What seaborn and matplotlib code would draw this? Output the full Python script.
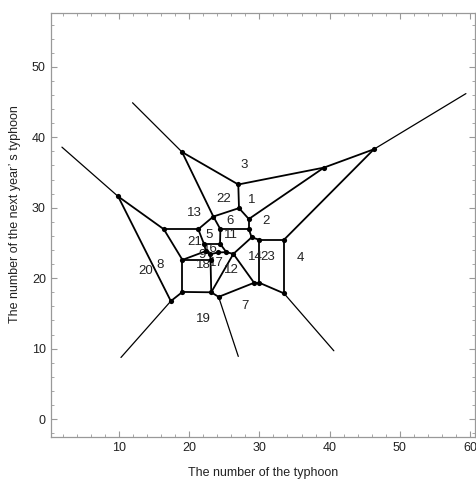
import matplotlib
matplotlib.use("Agg")
import matplotlib.pyplot as plt
import seaborn as sns
import pandas as pd
import numpy as np
from matplotlib.ticker import MultipleLocator

# Voronoi vertices (finite, drawn with dots)
vertex_names = ["TL", "A", "B", "TR", "C", "D", "E", "F", "G", "H", "I", "J",
                "Q", "R", "S", "T", "V", "W", "c1", "c3", "c2", "X", "K",
                "AA", "Y", "O", "P", "L", "M", "N", "Z"]
vertex_x = [19.0, 27.0, 39.2, 46.3, 27.1, 28.5, 23.45, 28.5, 24.45, 28.9, 30.0, 33.5,
            9.9, 16.4, 21.3, 19.05, 22.1, 24.4, 22.4, 23.0, 24.1, 25.3, 26.3,
            23.05, 19.05, 23.15, 24.2, 29.25, 30.0, 33.5, 17.4]
vertex_y = [37.9, 33.3, 35.7, 38.3, 29.95, 28.4, 28.75, 26.95, 26.95, 25.8, 25.45, 25.45,
            31.6, 26.95, 26.95, 22.6, 24.9, 24.9, 23.85, 23.4, 23.65, 23.7, 23.45,
            22.6, 18.05, 18.0, 17.35, 19.35, 19.35, 17.85, 16.75]

# Far ends of the unbounded cell edges (rays)
ray_from = ["TL", "TR", "Q", "Z", "P", "N"]
ray_end_x = [11.95, 59.4, 1.9, 10.3, 27.0, 40.6]
ray_end_y = [44.9, 46.2, 38.6, 8.75, 8.9, 9.7]

# Finite edges between vertices
edges = [("TL", "A"), ("TL", "E"), ("A", "B"), ("A", "C"), ("B", "TR"), ("B", "D"),
         ("TR", "J"), ("C", "D"), ("C", "E"), ("D", "F"), ("E", "S"), ("E", "G"),
         ("F", "G"), ("F", "H"), ("G", "W"), ("H", "I"), ("H", "K"), ("I", "J"),
         ("I", "M"), ("J", "N"), ("N", "M"), ("M", "L"), ("L", "K"), ("L", "P"),
         ("P", "O"), ("O", "Y"), ("O", "AA"), ("O", "K"), ("Y", "T"), ("Y", "Z"),
         ("Z", "Q"), ("Q", "R"), ("R", "S"), ("R", "T"), ("S", "V"), ("V", "W"),
         ("V", "c1"), ("W", "X"), ("X", "K"), ("X", "c2"), ("c2", "c3"),
         ("c3", "c1"), ("c3", "AA"), ("T", "c1"), ("T", "AA")]

# Point labels
label_text = ["1", "2", "3", "4", "5", "6", "7", "8", "9", "11", "12", "13",
              "14", "16", "17", "18", "19", "20", "21", "22", "23"]
label_x = [28.96, 30.9, 27.9, 35.85, 22.9, 25.9, 27.9, 15.9, 21.8, 26.0, 26.0, 20.8,
           29.45, 23.0, 23.9, 22.1, 22.0, 13.8, 20.8, 24.9, 31.15]
label_y = [31.06, 28.1, 36.0, 22.9, 26.2, 28.1, 16.0, 21.9, 23.3, 26.2, 21.1, 29.2,
           23.0, 24.1, 22.1, 21.9, 14.2, 21.0, 25.15, 31.2, 23.0]

pos = {n: (x, y) for n, x, y in zip(vertex_names, vertex_x, vertex_y)}

rows = []
for i, (a, b) in enumerate(edges):
    rows.append({"edge": i, "x": pos[a][0], "y": pos[a][1]})
    rows.append({"edge": i, "x": pos[b][0], "y": pos[b][1]})
edge_df = pd.DataFrame(rows)

ray_rows = []
for i, (a, ex, ey) in enumerate(zip(ray_from, ray_end_x, ray_end_y)):
    ray_rows.append({"edge": i, "x": pos[a][0], "y": pos[a][1]})
    ray_rows.append({"edge": i, "x": ex, "y": ey})
ray_df = pd.DataFrame(ray_rows)

vert_df = pd.DataFrame({"x": vertex_x, "y": vertex_y})

sns.set_theme(style="ticks")
plt.rcParams["font.family"] = ["Liberation Sans", "DejaVu Sans"]

fig = plt.figure(figsize=(4.76, 4.83), dpi=100)
ax = fig.add_axes([0.108, 0.0958, 0.890, 0.8767])

sns.lineplot(data=ray_df, x="x", y="y", units="edge", estimator=None, sort=False,
             color="black", linewidth=0.9, ax=ax)
sns.lineplot(data=edge_df, x="x", y="y", units="edge", estimator=None, sort=False,
             color="black", linewidth=1.3, ax=ax)
sns.scatterplot(data=vert_df, x="x", y="y", color="black", s=14, linewidth=0,
                ax=ax, zorder=5)

for t, x, y in zip(label_text, label_x, label_y):
    ax.text(x, y, t, fontsize=9.5, ha="center", va="center", color="#222222")

ax.set_xlim(0.4, 60.7)
ax.set_ylim(-2.5, 57.6)
ax.xaxis.set_major_locator(MultipleLocator(10))
ax.xaxis.set_minor_locator(MultipleLocator(2))
ax.yaxis.set_major_locator(MultipleLocator(10))
ax.yaxis.set_minor_locator(MultipleLocator(2))
ax.tick_params(which="both", direction="in", top=True, right=True,
               labeltop=False, labelright=False, color="#999999",
               labelsize=9, labelcolor="#222222", pad=4)
ax.tick_params(which="major", length=4.5, width=0.8)
ax.tick_params(which="minor", length=2.5, width=0.6)
for sp in ax.spines.values():
    sp.set_color("#999999")
    sp.set_linewidth(0.9)

ax.set_xlabel("The number of the typhoon", fontsize=9, color="#222222")
ax.set_ylabel("The number of the next year\u2019 s typhoon", fontsize=9,
              color="#222222")
ax.xaxis.set_label_coords(0.5, -0.072)
ax.yaxis.set_label_coords(-0.072, 0.525)

fig.savefig("out.png", dpi=100)
